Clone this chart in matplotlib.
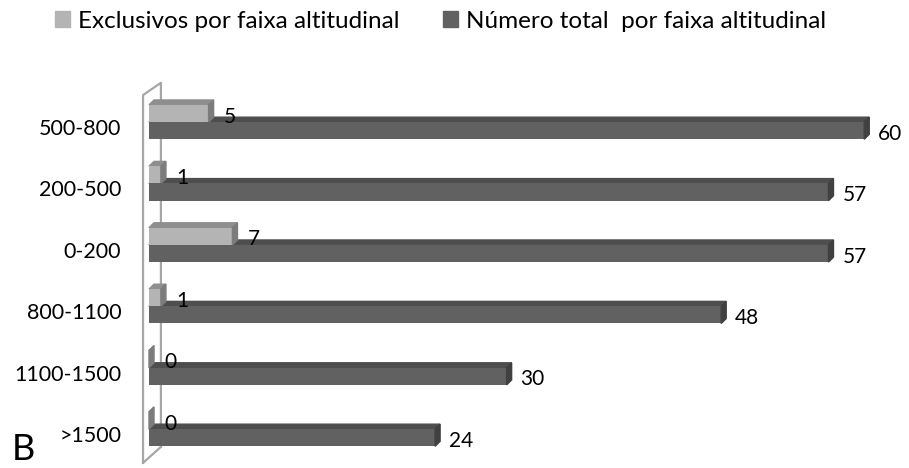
import matplotlib.pyplot as plt
from matplotlib.patches import Polygon, Patch

plt.rcParams['font.family'] = ['Lato', 'DejaVu Sans']

faixas = [">1500", "1100-1500", "800-1100", "0-200", "200-500", "500-800"]
exclusivos = [0, 0, 1, 7, 1, 5]
total = [24, 30, 48, 57, 57, 60]

c_excl = "#b4b4b4"
c_total = "#616161"

fig = plt.figure(figsize=(9.09, 4.68), dpi=100)
ax = fig.add_axes([149 / 909, 1 - 464.7 / 468, 751 / 909, (464.7 - 96.3) / 468])
ax.set_xlim(0, 63)
ax.set_ylim(-0.5, len(faixas) - 0.5)

h = 0.28
dx, dy = 0.42, 0.08  # depth of the 3d faces


def bar3d(y, w, face, top, side):
    ax.barh(y, w, height=h, color=face, zorder=3, clip_on=False)
    y0, y1 = y - h / 2, y + h / 2
    ax.add_patch(Polygon([(0, y1), (w, y1), (w + dx, y1 + dy), (dx, y1 + dy)],
                         closed=True, color=top, zorder=2, clip_on=False))
    ax.add_patch(Polygon([(w, y0), (w, y1), (w + dx, y1 + dy), (w + dx, y0 + dy)],
                         closed=True, color=side, zorder=3, clip_on=False))


# back wall (drawn behind the bars)
ylo, yhi = ax.get_ylim()
wd = 1.0
ax.plot([-0.5, -0.5, wd, wd], [ylo + 0.03, yhi + 0.02, yhi + 0.22, ylo + 0.29],
        color="#a6a6a6", lw=1.6, zorder=1, clip_on=False)
ax.plot([-0.5, wd], [ylo + 0.03, ylo + 0.29], color="#a6a6a6", lw=1.6,
        zorder=1, clip_on=False)

for i in range(len(faixas)):
    ye = i + 0.22
    yt = i - 0.06
    bar3d(ye, exclusivos[i], c_excl, "#8e8e8e", "#7c7c7c")
    bar3d(yt, total[i], c_total, "#4e4e4e", "#404040")
    ax.annotate(str(exclusivos[i]), (exclusivos[i], ye - 0.05),
                xytext=(11, 0), textcoords="offset points",
                ha="left", va="center", fontsize=15)
    ax.annotate(str(total[i]), (total[i], yt - 0.05),
                xytext=(10, 0), textcoords="offset points",
                ha="left", va="center", fontsize=15)

ax.set_yticks(range(len(faixas)))
ax.set_yticklabels(faixas, fontsize=15.5)
ax.set_xticks([])
ax.tick_params(axis="y", length=0, pad=20)
for s in ax.spines.values():
    s.set_visible(False)

handles = [Patch(color=c_excl, label="Exclusivos por faixa altitudinal"),
           Patch(color=c_total, label="Número total  por faixa altitudinal")]
fig.legend(handles=handles, loc="center left", bbox_to_anchor=(55 / 909, 1 - 21 / 468),
           ncol=2, frameon=False, fontsize=17.5, handlelength=0.62,
           handleheight=0.62, handletextpad=0.33, columnspacing=1.8,
           borderpad=0, borderaxespad=0)

fig.text(12 / 909, 1 - 450 / 468, "B", fontsize=26, va="center", ha="left")

fig.savefig("out.png", dpi=100)
